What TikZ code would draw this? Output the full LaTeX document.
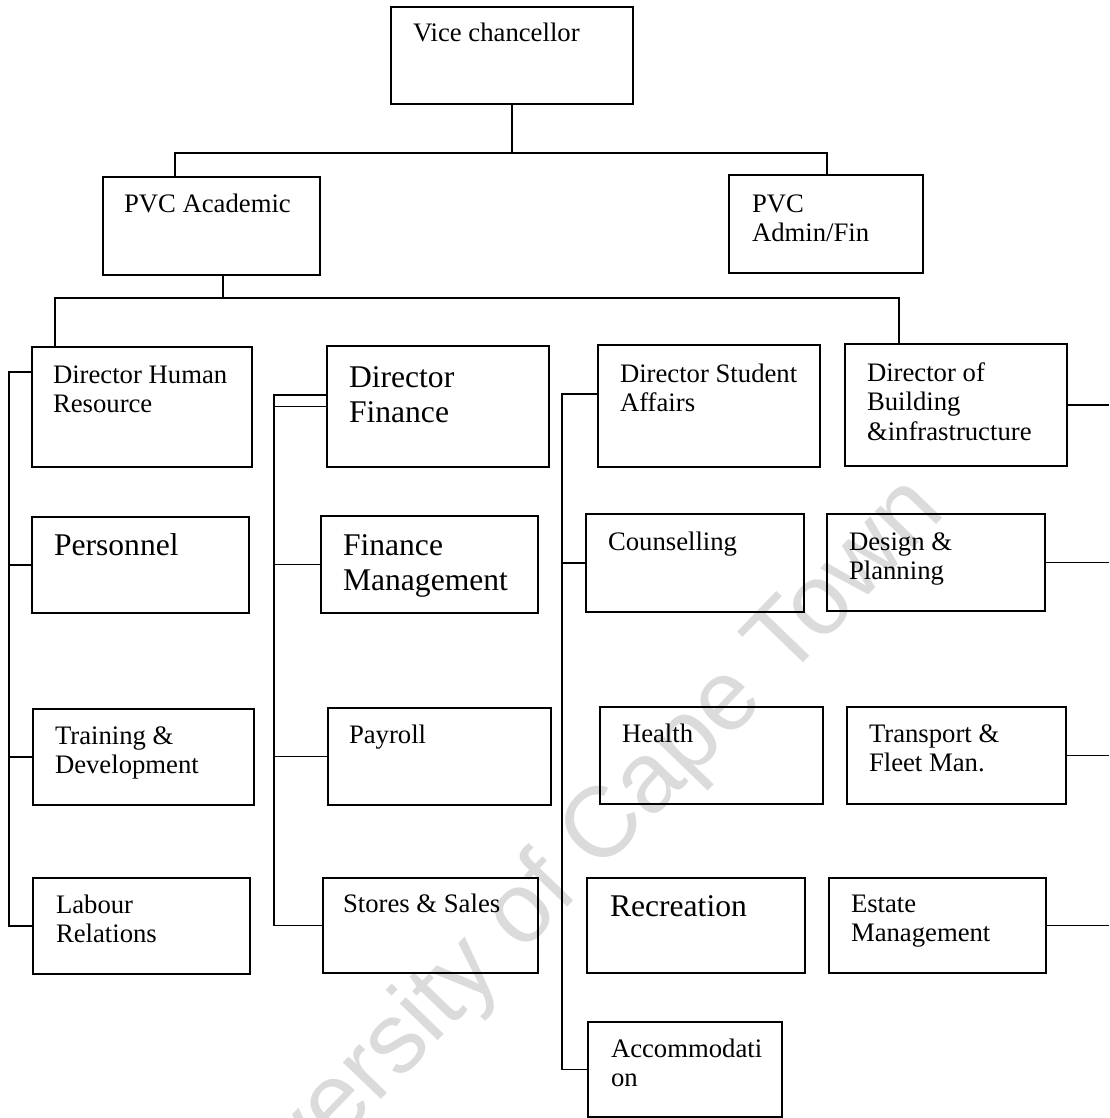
\documentclass[tikz,border=0pt]{standalone}
\usepackage{fontspec}
\setmainfont{Liberation Serif}
\newfontfamily\wmfont{Liberation Sans}
\usetikzlibrary{fit}
\newcommand\nrmtxt{\fontsize{26.7}{29.7}\selectfont}
\newcommand\lrgtxt{\fontsize{31.6}{35.2}\selectfont}
\newcommand\mlines[1]{\begin{tabular}[t]{@{}l@{}}#1\end{tabular}}
\tikzset{
  orgbox/.style={draw=black, line width=1.7pt, inner sep=0pt, rectangle},
  lbl/.style={inner sep=0pt, outer sep=0pt, anchor=base west, font=\nrmtxt, text=black},
  lbllg/.style={lbl, font=\lrgtxt},
  conn/.style={draw=black, line width=1.6pt},
  wmark/.style={font=\wmfont\fontsize{100}{100}\selectfont, text=black!14, rotate=46, anchor=base, inner sep=0pt}
}
\begin{document}
\begin{tikzpicture}[x=1pt,y=-1pt]
\useasboundingbox (0,0) rectangle (1109,1118);
\begin{scope}
\clip (0,0) rectangle (1109,1118);
\node[wmark] (wm) at (573,901) {University of Cape Town};
\end{scope}

% boxes
\node[orgbox, fit={(391,7) (633,104)}] (vc) {};
\node[orgbox, fit={(103,177) (320,275)}] (pvca) {};
\node[orgbox, fit={(729,175) (923,273)}] (pvcf) {};
\node[orgbox, fit={(32,347) (252,467)}] (dhr) {};
\node[orgbox, fit={(327,346) (549,467)}] (dfin) {};
\node[orgbox, fit={(598,345) (820,467)}] (dsa) {};
\node[orgbox, fit={(845,344) (1067,466)}] (dbi) {};
\node[orgbox, fit={(32,517) (249,613)}] (per) {};
\node[orgbox, fit={(321,516) (538,613)}] (fm) {};
\node[orgbox, fit={(586,514) (804,612)}] (cou) {};
\node[orgbox, fit={(827,514) (1045,611)}] (dp) {};
\node[orgbox, fit={(33,709) (254,805)}] (trn) {};
\node[orgbox, fit={(328,708) (551,805)}] (pay) {};
\node[orgbox, fit={(600,707) (823,804)}] (hea) {};
\node[orgbox, fit={(847,707) (1066,804)}] (tra) {};
\node[orgbox, fit={(33,878) (250,974)}] (lab) {};
\node[orgbox, fit={(323,878) (538,973)}] (sto) {};
\node[orgbox, fit={(587,878) (805,973)}] (rec) {};
\node[orgbox, fit={(829,878) (1046,973)}] (est) {};
\node[orgbox, fit={(588,1022) (782,1117)}] (acc) {};

% labels
\node[lbl] (vc-t) at (413,42) {Vice chancellor};
\node[lbl] (pvca-t) at (124,212) {PVC Academic};
\node[lbl] (pvcf-t) at (752,212) {\mlines{PVC\\Admin/Fin}};
\node[lbl] (dhr-t) at (53,383) {\mlines{Director Human\\Resource}};
\node[lbllg] (dfin-t) at (349,387) {\mlines{Director\\Finance}};
\node[lbl] (dsa-t) at (620,382) {\mlines{Director Student\\Affairs}};
\node[lbl] (dbi-t) at (867,381) {\mlines{Director of\\Building\\\&infrastructure}};
\node[lbllg] (per-t) at (54,555) {Personnel};
\node[lbllg] (fm-t) at (343,555) {\mlines{Finance\\Management}};
\node[lbl] (cou-t) at (608,550) {Counselling};
\node[lbl] (dp-t) at (849,550) {\mlines{Design \&\\Planning}};
\node[lbl] (trn-t) at (55,744) {\mlines{Training \&\\Development}};
\node[lbl] (pay-t) at (349,743) {Payroll};
\node[lbl] (hea-t) at (622,742) {Health};
\node[lbl] (tra-t) at (869,742) {\mlines{Transport \&\\Fleet Man.}};
\node[lbl] (lab-t) at (56,913) {\mlines{Labour\\Relations}};
\node[lbl] (sto-t) at (343,912) {Stores \& Sales};
\node[lbllg] (rec-t) at (610,916) {Recreation};
\node[lbl] (est-t) at (851,912) {\mlines{Estate\\Management}};
\node[lbl] (acc-t) at (611,1057) {\mlines{Accommodati\\on}};

% junction coordinates
\coordinate (jA) at (175,153);
\coordinate (jB) at (827,153);
\coordinate (k) at (223,298);
\coordinate (jL) at (55,298);
\coordinate (jR) at (899,298);
\coordinate (h0) at (9,372);
\coordinate (f0) at (274,395);
\coordinate (s0) at (562,394);
\coordinate (re) at (1109,0);

% connectors
\draw[conn] (vc.south) -- (vc.south |- jA);
\draw[conn] (jA |- pvca.north) -- (jA) -- (jB) -- (jB |- pvcf.north);
\draw[conn] (k |- pvca.south) -- (k);
\draw[conn] (jL |- dhr.north) -- (jL) -- (jR) -- (jR |- dbi.north);

\draw[conn] (h0 -| dhr.west) -- (h0) -- (h0 |- lab.west) -- (lab.west);
\draw[conn] (per.west) -- (per.west -| h0);
\draw[conn] (trn.west) -- (trn.west -| h0);

\draw[conn] (f0 -| dfin.west) -- (f0) -- (f0 |- sto.west) -- (sto.west);
\draw[conn] (dfin.west) -- (dfin.west -| f0);
\draw[conn] (fm.west) -- (fm.west -| f0);
\draw[conn] (pay.west) -- (pay.west -| f0);

\draw[conn] (s0 -| dsa.west) -- (s0) -- (s0 |- acc.west) -- (acc.west);
\draw[conn] (cou.west) -- (cou.west -| s0);

\draw[conn] (dbi.east) -- (dbi.east -| re);
\draw[conn] (dp.east) -- (dp.east -| re);
\draw[conn] (tra.east) -- (tra.east -| re);
\draw[conn] (est.east) -- (est.east -| re);
\end{tikzpicture}
\end{document}
